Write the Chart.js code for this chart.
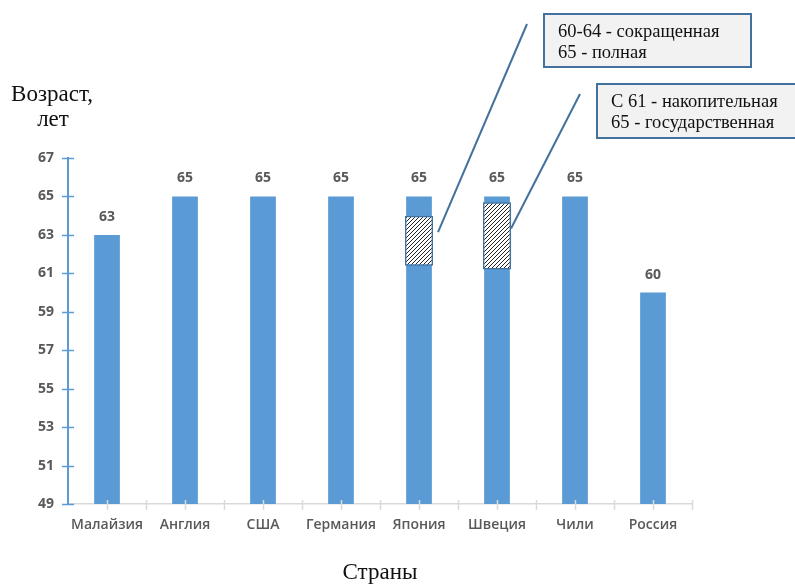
<!DOCTYPE html>
<html>
<head>
<meta charset="utf-8">
<script src="https://cdn.jsdelivr.net/npm/chart.js@4/dist/chart.umd.min.js"></script>
<style>
  html, body { margin: 0; padding: 0; background: #ffffff; }
  #wrap { width: 795px; height: 584px; position: relative; }
</style>
</head>
<body>
<div id="wrap"><canvas id="c" width="795" height="584"></canvas></div>
<script>
// Retirement age by country
const countries = ['Малайзия', 'Англия', 'США', 'Германия', 'Япония', 'Швеция', 'Чили', 'Россия'];
const retirementAge = [63, 65, 65, 65, 65, 65, 65, 60];
// Ranges of partial / early retirement (Japan, Sweden)
const partialRanges = [null, null, null, null, [61.4, 64], [61.2, 64.7], null, null];
const yTicks = [49, 51, 53, 55, 57, 59, 61, 63, 65, 67];
const calloutJapan = ['60-64 - сокращенная', '65 - полная'];
const calloutSweden = ['С 61 - накопительная', '65 - государственная'];

const BLUE = '#5b9bd5';
const GRAY_TEXT = '#595959';
const CALLOUT_BLUE = '#41719c';
const SANS = '"Open Sans", "Liberation Sans", sans-serif';
const SERIF = '"Liberation Serif", "Times New Roman", serif';

// diagonal hatch fill
function hatchPattern() {
  const t = document.createElement('canvas');
  t.width = 4; t.height = 4;
  const g = t.getContext('2d');
  g.fillStyle = '#ffffff';
  g.fillRect(0, 0, 4, 4);
  g.strokeStyle = '#222222';
  g.lineWidth = 1;
  g.beginPath();
  g.moveTo(-1, 5); g.lineTo(5, -1);
  g.moveTo(-1, 1); g.lineTo(1, -1);
  g.moveTo(3, 5); g.lineTo(5, 3);
  g.stroke();
  return g.createPattern(t, 'repeat');
}

const ctx = document.getElementById('c').getContext('2d');

// value labels over the main bars
const valueLabels = {
  id: 'valueLabels',
  afterDatasetsDraw(chart) {
    const meta = chart.getDatasetMeta(0);
    const c = chart.ctx;
    c.save();
    c.font = 'bold 14px ' + SANS;
    c.fillStyle = GRAY_TEXT;
    c.textAlign = 'center';
    c.textBaseline = 'middle';
    meta.data.forEach((bar, i) => {
      c.fillText(String(retirementAge[i]), bar.x, bar.y - 18);
    });
    c.restore();
  }
};

// tick marks on both axes
const axisTicks = {
  id: 'axisTicks',
  afterDraw(chart) {
    const c = chart.ctx;
    const x = chart.scales.x, y = chart.scales.y;
    c.save();
    c.lineWidth = 1.5;
    c.strokeStyle = BLUE;
    yTicks.forEach(v => {
      const py = Math.round(y.getPixelForValue(v)) + 0.5;
      c.beginPath();
      c.moveTo(x.left - 6, py);
      c.lineTo(x.left + 6, py);
      c.stroke();
    });
    c.strokeStyle = '#d9d9d9';
    const step = (x.right - x.left) / countries.length / 2;
    for (let k = 1; k <= countries.length * 2; k++) {
      const px = Math.round(x.left + k * step) + 0.5;
      c.beginPath();
      c.moveTo(px, y.bottom - 4);
      c.lineTo(px, y.bottom + 6);
      c.stroke();
    }
    c.restore();
  }
};

// axis caption and callout boxes
const annotations = {
  id: 'annotations',
  afterDraw(chart) {
    const c = chart.ctx;
    c.save();
    c.fillStyle = '#111111';
    c.font = '23px ' + SERIF;
    c.textAlign = 'center';
    c.textBaseline = 'alphabetic';
    c.fillText('Возраст,', 52, 101);
    c.fillText('лет', 53, 126);

    const meta = chart.getDatasetMeta(1);
    const boxes = [
      { idx: 4, lines: calloutJapan, x: 544, y: 14, w: 207, h: 53, frac: 0.33 },
      { idx: 5, lines: calloutSweden, x: 597, y: 84, w: 200, h: 54, frac: 0.39 }
    ];
    boxes.forEach(b => {
      const el = meta.data[b.idx];
      const ex = el.x + el.width / 2 + (b.idx === 4 ? 5 : 0);
      const ey = el.y + (el.base - el.y) * b.frac;
      c.strokeStyle = CALLOUT_BLUE;
      c.lineWidth = 2;
      c.beginPath();
      c.moveTo(b.x - 17, b.y + 10);
      c.lineTo(ex, ey);
      c.stroke();

      c.fillStyle = '#f2f2f2';
      c.fillRect(b.x, b.y, b.w, b.h);
      c.strokeRect(b.x, b.y, b.w, b.h);
      c.fillStyle = '#111111';
      c.font = '18.5px ' + SERIF;
      c.textAlign = 'left';
      c.fillText(b.lines[0], b.x + 14, b.y + 23);
      c.fillText(b.lines[1], b.x + 14, b.y + 44);
    });
    c.restore();
  }
};

new Chart(ctx, {
  type: 'bar',
  data: {
    labels: countries,
    datasets: [
      {
        data: retirementAge,
        backgroundColor: BLUE,
        barPercentage: 0.33,
        categoryPercentage: 1,
        grouped: false,
        order: 2
      },
      {
        data: partialRanges,
        backgroundColor: hatchPattern(),
        borderColor: CALLOUT_BLUE,
        borderWidth: 1.5,
        borderSkipped: false,
        barPercentage: 0.36,
        categoryPercentage: 1,
        grouped: false,
        order: 1
      }
    ]
  },
  options: {
    responsive: false,
    animation: false,
    devicePixelRatio: 1,
    layout: { padding: { left: 0, right: 103, top: 158, bottom: 0 } },
    plugins: {
      legend: { display: false },
      tooltip: { enabled: false },
      title: { display: false }
    },
    scales: {
      x: {
        grid: { display: false, drawTicks: false },
        border: { display: true, color: '#d9d9d9', width: 1.5 },
        ticks: {
          color: GRAY_TEXT,
          font: { family: SANS, size: 14, weight: '600' },
          padding: 13,
          maxRotation: 0,
          autoSkip: false
        },
        title: {
          display: true,
          text: 'Страны',
          color: '#111111',
          font: { family: SERIF, size: 23, lineHeight: 1 },
          padding: 0
        },
        afterFit(s) { s.height = 80; }
      },
      y: {
        min: 49,
        max: 67,
        afterBuildTicks(s) { s.ticks = yTicks.map(v => ({ value: v })); },
        grid: { display: false, drawTicks: false },
        border: { display: true, color: BLUE, width: 2 },
        ticks: {
          color: GRAY_TEXT,
          font: { family: SANS, size: 14, weight: 'bold' },
          padding: 14
        },
        afterFit(s) { s.width = 68; }
      }
    }
  },
  plugins: [valueLabels, axisTicks, annotations]
});
</script>
</body>
</html>
